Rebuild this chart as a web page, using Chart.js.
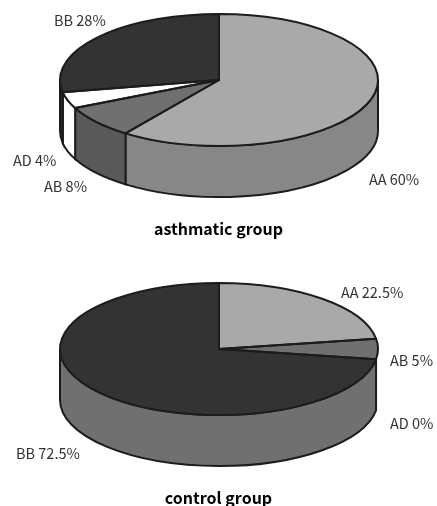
<!DOCTYPE html>
<html>
<head>
<meta charset="utf-8">
<script src="https://cdn.jsdelivr.net/npm/chart.js@4"></script>
<style>
html, body { margin: 0; padding: 0; background: #fff; overflow: hidden; }
#page { position: relative; width: 437px; height: 506px; overflow: hidden; font-family: "Noto Sans CJK KR", "Noto Sans", sans-serif; }
canvas { position: absolute; left: 0; }
#asthmaticChart { top: 0; }
#controlChart { top: 190px; }
.lbl { position: absolute; font-size: 14.5px; line-height: 18px; color: #333; white-space: nowrap; }
.ttl { position: absolute; font-size: 16px; line-height: 22px; font-weight: 700; color: #000; white-space: nowrap; width: 437px; text-align: center; }
</style>
</head>
<body>
<div id="page">
  <canvas id="asthmaticChart" width="438" height="318"></canvas>
  <canvas id="controlChart" width="438" height="318"></canvas>
</div>
<script>
const categories = ['AA', 'AB', 'AD', 'BB'];
const asthmaticValues = [60, 8, 4, 28];
const controlValues = [22.5, 5, 0, 72.5];
const titles = ['asthmatic group', 'control group'];

const topColors = ['#a9a9a9', '#707070', '#ffffff', '#333333'];
const asthmaticSides = ['#878787', '#595959', '#ffffff', '#262626'];
// AB has no wall of its own in the lower pie
const controlSides = ['#878787', null, '#ffffff', '#707070'];

// left / top of each label, same order as categories
const asthmaticPos = [[369, 170], [44, 177], [13, 151], [54, 11]];
const controlPos = [[341, 283], [390, 351], [390, 414], [16, 444]];

// squash the pie into an ellipse and give it a wall
const pie3d = {
    id: 'pie3d',
    beforeDatasetsDraw(chart, args, opts) {
        const ctx = chart.ctx;
        const arcs = chart.getDatasetMeta(0).data;
        const first = arcs[0];
        const rx = first.outerRadius;
        ctx.save();
        ctx.lineWidth = 2;
        ctx.strokeStyle = '#1c1c1c';
        arcs.forEach((arc, i) => {
            const a = Math.max(arc.startAngle, 0);
            const b = Math.min(arc.endAngle, Math.PI);
            if (b <= a || !opts.sides[i]) return;
            ctx.beginPath();
            ctx.ellipse(arc.x, opts.cy, rx, opts.ry, 0, a, b);
            ctx.ellipse(arc.x, opts.cy + opts.depth, rx, opts.ry, 0, b, a, true);
            ctx.closePath();
            ctx.fillStyle = opts.sides[i];
            ctx.fill();
            ctx.stroke();
        });
        ctx.restore();
        ctx.save();
        ctx.translate(first.x, opts.cy);
        ctx.scale(1, opts.ry / rx);
        ctx.translate(-first.x, -first.y);
    },
    afterDatasetsDraw(chart, args, opts) {
        const ctx = chart.ctx;
        ctx.restore();
        ctx.save();
        ctx.lineWidth = 2;
        ctx.strokeStyle = '#1c1c1c';
        ctx.lineJoin = 'round';
        chart.getDatasetMeta(0).data.forEach(arc => {
            if (arc.endAngle - arc.startAngle <= 0) return;
            ctx.beginPath();
            ctx.moveTo(arc.x, opts.cy);
            ctx.ellipse(arc.x, opts.cy, arc.outerRadius, opts.ry, 0, arc.startAngle, arc.endAngle);
            ctx.closePath();
            ctx.stroke();
        });
        ctx.restore();
    }
};

function makePie(id, values, cy, sides) {
    return new Chart(document.getElementById(id), {
        type: 'pie',
        data: {
            labels: categories,
            datasets: [{ data: values, backgroundColor: topColors, borderWidth: 0 }]
        },
        options: {
            responsive: false,
            animation: false,
            layout: { padding: 0 },
            plugins: {
                legend: { display: false },
                tooltip: { enabled: false },
                pie3d: { cy: cy, ry: 66, depth: 51, sides: sides }
            }
        },
        plugins: [pie3d]
    });
}

function addText(cls, text, left, top) {
    const el = document.createElement('div');
    el.className = cls;
    el.textContent = text;
    if (left !== null) el.style.left = left + 'px';
    el.style.top = top + 'px';
    document.getElementById('page').appendChild(el);
}

makePie('asthmaticChart', asthmaticValues, 80, asthmaticSides);
makePie('controlChart', controlValues, 159, controlSides);

categories.forEach((c, i) => {
    addText('lbl', c + ' ' + asthmaticValues[i] + '%', asthmaticPos[i][0], asthmaticPos[i][1]);
    addText('lbl', c + ' ' + controlValues[i] + '%', controlPos[i][0], controlPos[i][1]);
});
addText('ttl', titles[0], 0, 217);
addText('ttl', titles[1], 0, 486);
</script>
</body>
</html>
